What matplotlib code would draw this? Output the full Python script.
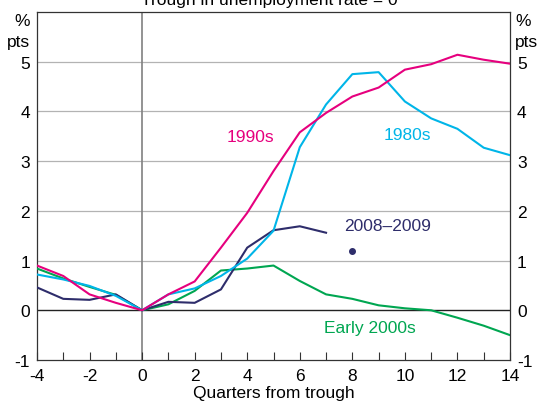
import matplotlib
matplotlib.use("Agg")
import matplotlib.pyplot as plt

plt.rcParams['font.family'] = ['Liberation Sans', 'DejaVu Sans']

quarters = list(range(-4, 15))
s1990 = [0.90, 0.69, 0.32, 0.15, 0.0, 0.32, 0.58, 1.26, 1.96, 2.80, 3.58, 3.97, 4.30, 4.48, 4.84, 4.95, 5.14, 5.04, 4.96]
s1980 = [0.72, 0.62, 0.49, 0.29, 0.0, 0.32, 0.44, 0.69, 1.04, 1.60, 3.28, 4.14, 4.75, 4.79, 4.20, 3.86, 3.65, 3.27, 3.12]
s2000 = [0.84, 0.64, 0.47, 0.31, 0.0, 0.12, 0.39, 0.80, 0.84, 0.90, 0.59, 0.32, 0.23, 0.10, 0.04, 0.00, -0.15, -0.31, -0.50]
q2008 = list(range(-4, 8))
s2008 = [0.46, 0.23, 0.21, 0.32, 0.0, 0.17, 0.15, 0.42, 1.26, 1.61, 1.69, 1.56]
dot_q = [8]
dot_v = [1.2]

xticks = list(range(-4, 15, 2))
yticks = list(range(-1, 6))

c1990 = '#E6007E'
c1980 = '#00B5E8'
c2000 = '#00A651'
c2008 = '#2E2D6B'

fig = plt.figure(figsize=(5.39, 4.06), dpi=100)
ax = fig.add_axes([37/539, 45/406, (510-37)/539, (361-13)/406])

ax.set_xlim(-4, 14)
ax.set_ylim(-1, 6)

for y in range(1, 6):
    ax.axhline(y, color='#b3b3b3', lw=0.9, zorder=1)
ax.axhline(0, color='#222222', lw=1.0, zorder=1)
ax.axvline(0, color='#808080', lw=1.2, zorder=1)

lw = 1.5
ax.plot(quarters, s2000, color=c2000, lw=lw, zorder=3)
ax.plot(q2008, s2008, color=c2008, lw=lw, zorder=3)
ax.plot(quarters, s1980, color=c1980, lw=lw, zorder=3)
ax.plot(quarters, s1990, color=c1990, lw=lw, zorder=4)
ax.plot(dot_q, dot_v, 'o', color=c2008, ms=4, zorder=4)

fs = 12.5
ax.text(4.12, 3.49, '1990s', color=c1990, fontsize=fs, ha='center', va='center')
ax.text(10.08, 3.53, '1980s', color=c1980, fontsize=fs, ha='center', va='center')
ax.text(9.35, 1.71, '2008\u20132009', color=c2008, fontsize=fs, ha='center', va='center')
ax.text(8.66, -0.34, 'Early 2000s', color=c2000, fontsize=fs, ha='center', va='center')

ax.set_xticks(xticks)
ax.set_xticks(range(-4, 15), minor=True)
ax.set_xticklabels([str(x) for x in xticks])
ax.tick_params(axis='x', which='both', direction='in', length=6, width=0.8,
               color='#333333', labelsize=fs, pad=6, top=False)
ax.set_yticks(yticks)
ax.set_yticklabels([str(y) for y in yticks])
ax.tick_params(axis='y', which='both', length=0, labelsize=fs, pad=5,
               left=True, right=True, labelleft=True, labelright=True)

for sp in ax.spines.values():
    sp.set_color('#333333')
    sp.set_linewidth(0.9)

ax.set_xlabel('Quarters from trough', fontsize=fs, labelpad=1)

fig.text(30/539, 1 - 22/406, '%', ha='right', va='center', fontsize=fs)
fig.text(30/539, 1 - 42/406, 'pts', ha='right', va='center', fontsize=fs)
fig.text(515/539, 1 - 22/406, '%', ha='left', va='center', fontsize=fs)
fig.text(515/539, 1 - 42/406, 'pts', ha='left', va='center', fontsize=fs)
fig.text(0.5, 1 - 5/406, 'Trough in unemployment rate = 0', ha='center',
         va='baseline', fontsize=fs)

fig.savefig('out.png', dpi=100)
